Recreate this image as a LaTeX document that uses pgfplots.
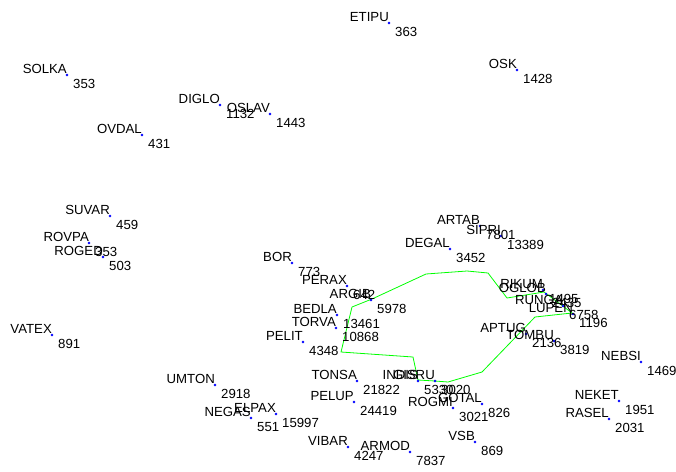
\documentclass[border=0pt]{standalone}
\usepackage{fontspec}
\setmainfont{Liberation Sans}
\usepackage{pgfplots}
\usepackage{pgfplotstable}
\pgfplotsset{compat=1.18}

% points in picture units (x right, y down)
\pgfplotstableread{
x   y   name   num
67  75  SOLKA  353
220 105 DIGLO  1132
270 114 OSLAV  1443
142 135 OVDAL  431
389 23  ETIPU  363
517 70  OSK    1428
110 216 SUVAR  459
89  243 ROVPA  353
103 257 ROGED  503
52  335 VATEX  891
292 263 BOR    773
347 286 PERAX  642
371 300 ARGIB  5978
337 315 BEDLA  13461
336 328 TORVA  10868
303 342 PELIT  4348
215 385 UMTON  2918
251 418 NEGAS  551
276 414 ELPAX  15997
348 447 VIBAR  4247
357 381 TONSA  21822
354 402 PELUP  24419
410 452 ARMOD  7837
475 442 VSB    869
418 381 INDIS  5330
435 381 GISRU  3020
453 408 ROGMI  3021
482 404 GOTAL  826
480 226 ARTAB  7801
501 236 SIPRI  13389
450 249 DEGAL  3452
543 290 RIKUM  1495
546 294 OGLOB  2435
563 306 RUNGA  6758
573 314 LUPEN  1196
526 334 APTUG  2136
554 341 TOMBU  3819
641 362 NEBSI  1469
619 401 NEKET  1951
609 419 RASEL  2031
}\pts

\pgfplotstableread{
x   y
352 307
372 299
426 274
467 271
488 273
507 298
544 292
572 313
535 317
482 372
448 382
435 381
418 380
413 357
341 352
352 307
}\route

\newcommand{\lbl}{\fontsize{13.2}{15}\selectfont}

\begin{document}
\begin{tikzpicture}
\begin{axis}[
    x=1pt, y=1pt,
    xmin=0, xmax=676, ymin=0, ymax=471,
    y dir=reverse,
    hide axis,
    clip=false,
    anchor=south west, at={(0,0)},
]
\addplot[green, line width=0.8pt] table[x=x, y=y] {\route};
\addplot[only marks, mark=*, mark size=1.1pt, blue,
    point meta=explicit symbolic,
    nodes near coords,
    nodes near coords style={anchor=south east, inner sep=0pt, text=black, font=\lbl, yshift=1pt}]
    table[x=x, y=y, meta=name] {\pts};
\addplot[draw=none, mark=none,
    point meta=explicit symbolic,
    nodes near coords,
    nodes near coords style={anchor=north west, inner sep=0pt, text=black, font=\lbl, xshift=6pt, yshift=-4pt}]
    table[x=x, y=y, meta=num] {\pts};
\end{axis}
\pgfresetboundingbox
\path[use as bounding box] (0,0) rectangle (676pt,471pt);
\end{tikzpicture}
\end{document}
